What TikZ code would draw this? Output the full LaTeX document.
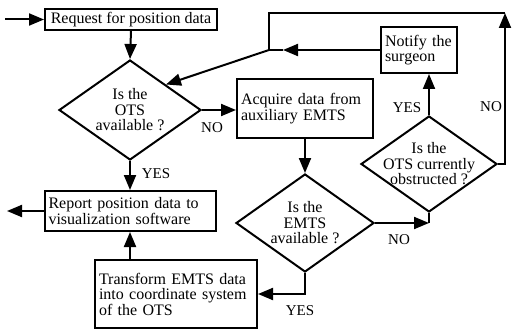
\documentclass[tikz,border=0pt]{standalone}
\usepackage{fontspec}
\setmainfont{Liberation Serif}
\usetikzlibrary{positioning, arrows.meta, shapes.geometric}
\tikzset{% 
	thick/.style = {line width = 2pt},
	>={Triangle[length = 15pt, width = 12pt]},
	every node/.style = {font = \fontsize{16}{15.5}\selectfont},
	box/.style = {rectangle, draw, thick, inner xsep = 4pt, inner ysep = 2pt, align = left},
	ask/.style = {name = #1, diamond, draw, thick, inner sep = 0pt},
	lab/.style = {inner sep = 0pt, font = \fontsize{15}{15}\selectfont}
}

\begin{document}
\begin{tikzpicture}[x = 1pt, y = -1pt, thick]
			\useasboundingbox (0,0) rectangle (513,331);
			\node [box, inner xsep = 1pt, minimum width = 172pt, minimum height = 21pt] (request) at (131,19.5) {Request for position data};
			\node [ask = {otsq}, minimum width = 142pt, minimum height = 100pt, label = {[align = center]center:{Is the\\OTS\\available ?}}] at (130,110) {};
			\node [box, text width = 128pt, minimum height = 59pt] (acquire) at (305,108.5) {Acquire data from\\auxiliary EMTS\\[6pt]};
			\node [ask = {emtsq}, minimum width = 138pt, minimum height = 98pt, label = {[align = center]center:{Is the\\EMTS\\available ?}}] at (305,223) {};
			\node [ask = {obst}, minimum width = 136pt, minimum height = 96pt, label = {[align = center]center:{Is the\\OTS currently\\obstructed ?}}] at (429,164) {};
			\node [box, text width = 68pt, minimum height = 46pt] (notify) at (419,50) {Notify the\\surgeon};
			\node [box, text width = 163pt, minimum height = 40pt] (report) at (130,211) {Report position data to\\visualization software};
			\node [box, text width = 154pt, minimum height = 68pt] (transform) at (176,294) {Transform EMTS data\\into coordinate system\\of the OTS};
			\coordinate (start) at (5,19.5);
			\coordinate (exit) at (7,211);
			\coordinate (corner) at (505,13);
			\coordinate (merge) at (269,50);
			\coordinate (tip) at (283,50);
			\node [lab] at (212,128) {NO};
			\node [lab] at (156,174) {YES};
			\node [lab] at (399,240) {NO};
			\node [lab] at (300,311) {YES};
			\node [lab] at (407,108) {YES};
			\node [lab] at (491,107) {NO};
			\draw [->] (start) -- (request.west);
			\draw [->] (request.south) -- (otsq.north);
			\draw [->] (otsq.east) -- (otsq.east -| acquire.west);
			\draw [->] (otsq.south) -- (report.north);
			\draw [->] (acquire.south) -- (emtsq.north);
			\draw [->] (emtsq.east) -- (emtsq.east -| obst.south);
			\draw (emtsq.east -| obst.south) -- (obst.south);
			\draw [->] (emtsq.south) |- (transform.east);
			\draw [->] (report.south |- transform.north) -- (report.south);
			\draw [->] (report.west) -- (exit);
			\draw [->] (obst.north) -- (obst.north |- notify.south);
			\draw [->] (notify.west) -- (tip);
			\draw (tip) -- (merge);
			\draw [->] (obst.east) -| (corner);
			\draw (corner) -| (merge);
			\draw [->] (merge) -- (otsq.north east);
			\end{tikzpicture}
\end{document}
